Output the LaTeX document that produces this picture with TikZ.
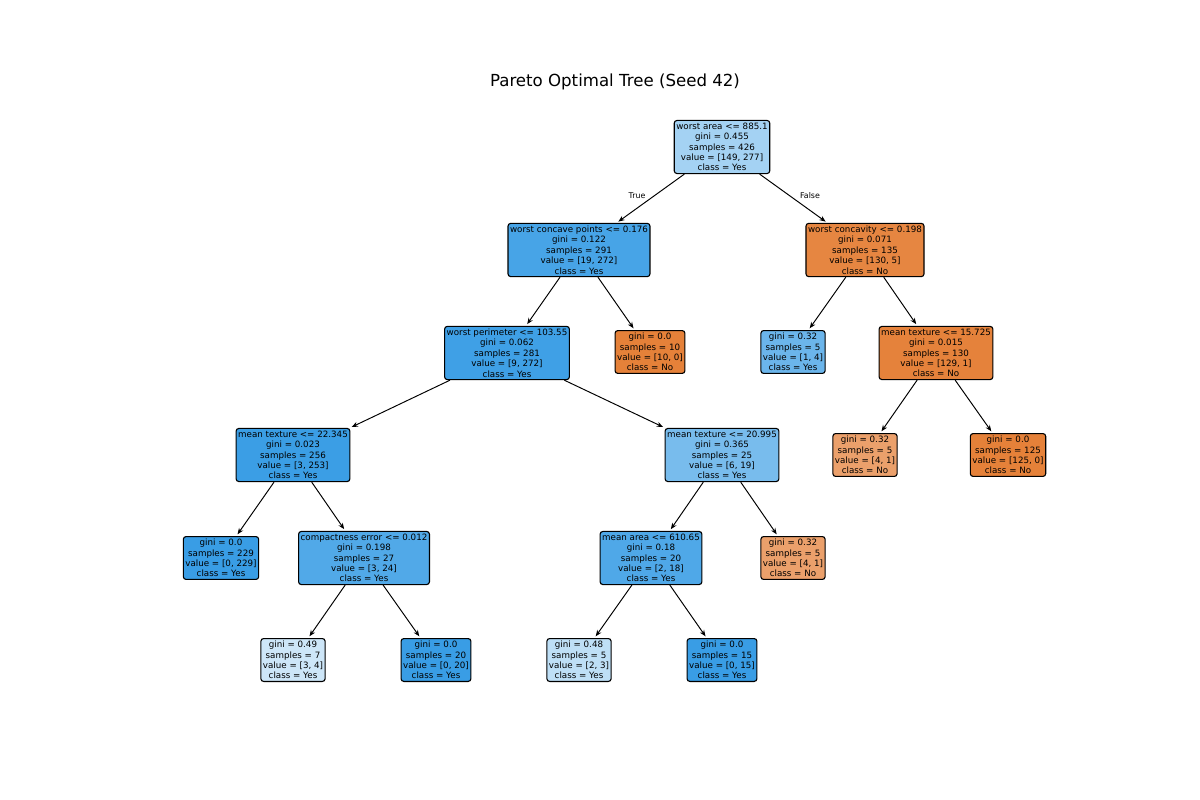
\documentclass[tikz,border=0pt]{standalone}
\usepackage{fontspec}
\setmainfont{DejaVu Sans}
\usetikzlibrary{arrows.meta}
\definecolor{treeOrange}{RGB}{229,129,57}
\definecolor{treeBlue}{RGB}{57,157,229}
\tikzset{
  tbox/.style={
    rectangle, rounded corners=2pt,
    draw=black, line width=0.8pt, fill=#1,
    inner xsep=1.5pt, inner ysep=1.8pt,
    align=center, font=\fontsize{6.3}{7.5}\selectfont,
    text=black
  },
  edgelbl/.style={font=\fontsize{5.7}{6.8}\selectfont, text=black},
  myarr/.style={-{Stealth[length=4.5pt,width=3.6pt]}, line width=0.7pt, shorten >=1.5pt},
}

\begin{document}
\begin{tikzpicture}[x=0.01in, y=-0.01in]
  \useasboundingbox (0,0) rectangle (1200,800);

  \node[font=\fontsize{12}{14}\selectfont] (title) at (615,82) {Pareto Optimal Tree (Seed 42)};

  % level 0
  \node[tbox=treeBlue!46]    (root)  at (722,147) {worst area <= 885.1\\gini = 0.455\\samples = 426\\value = [149, 277]\\class = Yes};

  % level 1
  \node[tbox=treeBlue!93]    (wcp)   at (579,250) {worst concave points <= 0.176\\gini = 0.122\\samples = 291\\value = [19, 272]\\class = Yes};
  \node[tbox=treeOrange!96]  (wcv)   at (865,250) {worst concavity <= 0.198\\gini = 0.071\\samples = 135\\value = [130, 5]\\class = No};

  % level 2
  \node[tbox=treeBlue!97]    (wper)  at (507,353) {worst perimeter <= 103.55\\gini = 0.062\\samples = 281\\value = [9, 272]\\class = Yes};
  \node[tbox=treeOrange]     (lfA)   at (650,352) {gini = 0.0\\samples = 10\\value = [10, 0]\\class = No};
  \node[tbox=treeBlue!75]    (lfB)   at (793,352) {gini = 0.32\\samples = 5\\value = [1, 4]\\class = Yes};
  \node[tbox=treeOrange!99]  (mtA)   at (936,353) {mean texture <= 15.725\\gini = 0.015\\samples = 130\\value = [129, 1]\\class = No};

  % level 3
  \node[tbox=treeBlue!99]    (mtB)   at (293,455) {mean texture <= 22.345\\gini = 0.023\\samples = 256\\value = [3, 253]\\class = Yes};
  \node[tbox=treeBlue!68]    (mtC)   at (722,455) {mean texture <= 20.995\\gini = 0.365\\samples = 25\\value = [6, 19]\\class = Yes};
  \node[tbox=treeOrange!75]  (lfC)   at (865,455) {gini = 0.32\\samples = 5\\value = [4, 1]\\class = No};
  \node[tbox=treeOrange]     (lfD)   at (1008,455) {gini = 0.0\\samples = 125\\value = [125, 0]\\class = No};

  % level 4
  \node[tbox=treeBlue]       (lfE)   at (221,558) {gini = 0.0\\samples = 229\\value = [0, 229]\\class = Yes};
  \node[tbox=treeBlue!88]    (cerr)  at (364,558) {compactness error <= 0.012\\gini = 0.198\\samples = 27\\value = [3, 24]\\class = Yes};
  \node[tbox=treeBlue!89]    (marea) at (651,558) {mean area <= 610.65\\gini = 0.18\\samples = 20\\value = [2, 18]\\class = Yes};
  \node[tbox=treeOrange!75]  (lfF)   at (793,558) {gini = 0.32\\samples = 5\\value = [4, 1]\\class = No};

  % level 5
  \node[tbox=treeBlue!25]    (lfG)   at (293,660) {gini = 0.49\\samples = 7\\value = [3, 4]\\class = Yes};
  \node[tbox=treeBlue]       (lfH)   at (436,660) {gini = 0.0\\samples = 20\\value = [0, 20]\\class = Yes};
  \node[tbox=treeBlue!33]    (lfI)   at (579,660) {gini = 0.48\\samples = 5\\value = [2, 3]\\class = Yes};
  \node[tbox=treeBlue]       (lfJ)   at (722,660) {gini = 0.0\\samples = 15\\value = [0, 15]\\class = Yes};

  \node[edgelbl] (ltrue)  at (637,196) {True};
  \node[edgelbl] (lfalse) at (810,196) {False};

  \draw[myarr] (root)  -- (wcp);
  \draw[myarr] (root)  -- (wcv);
  \draw[myarr] (wcp)   -- (wper);
  \draw[myarr] (wcp)   -- (lfA);
  \draw[myarr] (wcv)   -- (lfB);
  \draw[myarr] (wcv)   -- (mtA);
  \draw[myarr] (wper)  -- (mtB);
  \draw[myarr] (wper)  -- (mtC);
  \draw[myarr] (mtA)   -- (lfC);
  \draw[myarr] (mtA)   -- (lfD);
  \draw[myarr] (mtB)   -- (lfE);
  \draw[myarr] (mtB)   -- (cerr);
  \draw[myarr] (mtC)   -- (marea);
  \draw[myarr] (mtC)   -- (lfF);
  \draw[myarr] (cerr)  -- (lfG);
  \draw[myarr] (cerr)  -- (lfH);
  \draw[myarr] (marea) -- (lfI);
  \draw[myarr] (marea) -- (lfJ);
\end{tikzpicture}
\end{document}
